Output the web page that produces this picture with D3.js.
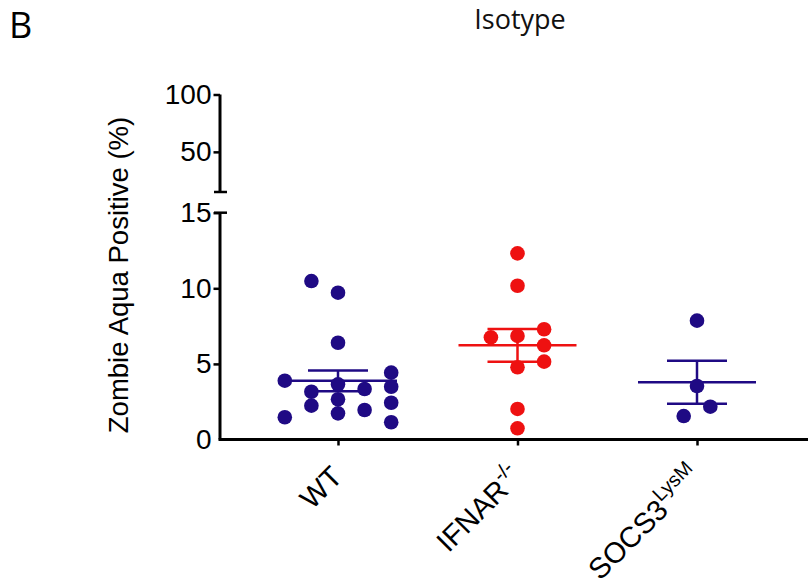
<!DOCTYPE html>
<html><head><meta charset="utf-8">
<script src="https://cdn.jsdelivr.net/npm/d3@7"></script>
<style>body{margin:0;background:#fff}svg{display:block}</style>
</head><body>
<svg id="c" width="808" height="587"></svg>
<script>
// ---- data ----
const categories = ["WT", "IFNAR", "SOCS3"];
const wtValues    = [10.48, 9.71, 6.40, 3.89, 1.47, 3.16, 2.24, 3.65, 2.66, 1.73, 3.34, 1.95, 4.42, 3.49, 2.43, 1.14];
const wtSlots     = [-1, 0, 0, -2, -2, -1, -1, 0, 0, 0, 1, 1, 2, 2, 2, 2];
const ifnarValues = [12.31, 10.17, 6.76, 6.85, 7.29, 6.23, 5.15, 4.78, 2.02, 0.74];
const ifnarSlots  = [0, 0, -1, 0, 1, 1, 1, 0, 0, 0];
const socsValues  = [7.86, 3.54, 2.17, 1.55];
const socsSlots   = [0, 0, 0.5, -0.5];
const lowerTicks = [0, 5, 10, 15];
const upperTicks = [50, 100];
const groupColors = ["#1f0a84", "#ee1111", "#1f0a84"];

const groups = [
  {cat: categories[0], values: wtValues, slots: wtSlots, color: groupColors[0]},
  {cat: categories[1], values: ifnarValues, slots: ifnarSlots, color: groupColors[1]},
  {cat: categories[2], values: socsValues, slots: socsSlots, color: groupColors[2]}
];

const svg = d3.select("#c");
const axisX = 220;
const x = d3.scalePoint().domain(categories).range([338, 697]);
const yLow = d3.scaleLinear().domain([0, 15]).range([439.5, 212.7]);
const yUp = d3.scaleLinear().domain([15, 100]).range([192, 94.5]);
const slotW = 26.6;
const tickFont = "'Liberation Sans', Arial, Helvetica, sans-serif";

// y axes
const axLow = svg.append("g").attr("transform", `translate(${axisX},0)`)
  .call(d3.axisLeft(yLow).tickValues(lowerTicks).tickSize(6.5).tickPadding(2));
const axUp = svg.append("g").attr("transform", `translate(${axisX},0)`)
  .call(d3.axisLeft(yUp).tickValues(upperTicks).tickSize(6.5).tickPadding(2));
[axLow, axUp].forEach(a => {
  a.select(".domain").remove();
  a.selectAll(".tick line").attr("stroke", "#000").attr("stroke-width", 2.5);
  a.selectAll(".tick text").attr("font-family", tickFont).attr("font-size", 28).attr("fill", "#000");
});
axLow.selectAll(".tick").filter(d => d === 0).select("line").remove();
// axis lines + break caps
svg.append("line").attr("x1", axisX).attr("x2", axisX).attr("y1", yLow(0)).attr("y2", yLow(15))
  .attr("stroke", "#000").attr("stroke-width", 3);
svg.append("line").attr("x1", axisX).attr("x2", axisX).attr("y1", yUp(15)).attr("y2", yUp(100))
  .attr("stroke", "#000").attr("stroke-width", 3);
[yLow(15), yUp(15)].forEach(yy => svg.append("line").attr("x1", axisX - 6).attr("x2", axisX + 7)
  .attr("y1", yy).attr("y2", yy).attr("stroke", "#000").attr("stroke-width", 2.5));

// x axis
svg.append("line").attr("x1", axisX - 1.5).attr("x2", 808).attr("y1", yLow(0)).attr("y2", yLow(0))
  .attr("stroke", "#000").attr("stroke-width", 3);
const axB = svg.append("g").attr("transform", `translate(0,${yLow(0)})`)
  .call(d3.axisBottom(x).tickSize(6).tickFormat(""));
axB.select(".domain").remove();
axB.selectAll(".tick line").attr("stroke", "#000").attr("stroke-width", 2.5);

// x labels (rotated)
const labelSpecs = [
  {main: "WT", sup: ""},
  {main: "IFNAR", sup: "-/-"},
  {main: "SOCS3", sup: "LysM"}
];
labelSpecs.forEach((s, i) => {
  const t = svg.append("text")
    .attr("transform", `translate(${x(categories[i]) + 6},${yLow(0) + 39}) rotate(-45)`)
    .attr("text-anchor", "end").attr("font-family", tickFont).attr("font-size", 29).attr("fill", "#000");
  t.append("tspan").text(s.main);
  if (s.sup) t.append("tspan").attr("font-size", 20).attr("dy", -13).text(s.sup);
});

// error bars + points
groups.forEach(g => {
  const cx = x(g.cat);
  const mean = d3.mean(g.values);
  const sem = d3.deviation(g.values) / Math.sqrt(g.values.length);
  const eg = svg.append("g").attr("stroke", g.color).attr("stroke-width", 2.5);
  eg.append("line").attr("x1", cx - 59).attr("x2", cx + 59).attr("y1", yLow(mean)).attr("y2", yLow(mean));
  eg.append("line").attr("x1", cx).attr("x2", cx).attr("y1", yLow(mean - sem)).attr("y2", yLow(mean + sem));
  [mean - sem, mean + sem].forEach(v => eg.append("line").attr("x1", cx - 30).attr("x2", cx + 30)
    .attr("y1", yLow(v)).attr("y2", yLow(v)));
  svg.append("g").selectAll("circle").data(g.values).join("circle")
    .attr("cx", (d, i) => cx + g.slots[i] * slotW)
    .attr("cy", d => yLow(d))
    .attr("r", 7.3).attr("fill", g.color);
});

// y label
svg.append("text").attr("transform", "translate(128,275) rotate(-90)")
  .attr("text-anchor", "middle").attr("font-family", tickFont).attr("font-size", 27.5)
  .attr("fill", "#000").text("Zombie Aqua Positive (%)");

// title and panel letter
svg.append("text").attr("x", 520).attr("y", 29).attr("text-anchor", "middle")
  .attr("font-family", "'Open Sans', sans-serif").attr("font-size", 27).attr("fill", "#111").text("Isotype");
svg.append("text").attr("x", 9).attr("y", 38)
  .attr("font-family", "'Open Sans', sans-serif").attr("font-size", 36).attr("fill", "#000").text("B");
</script>
</body></html>
